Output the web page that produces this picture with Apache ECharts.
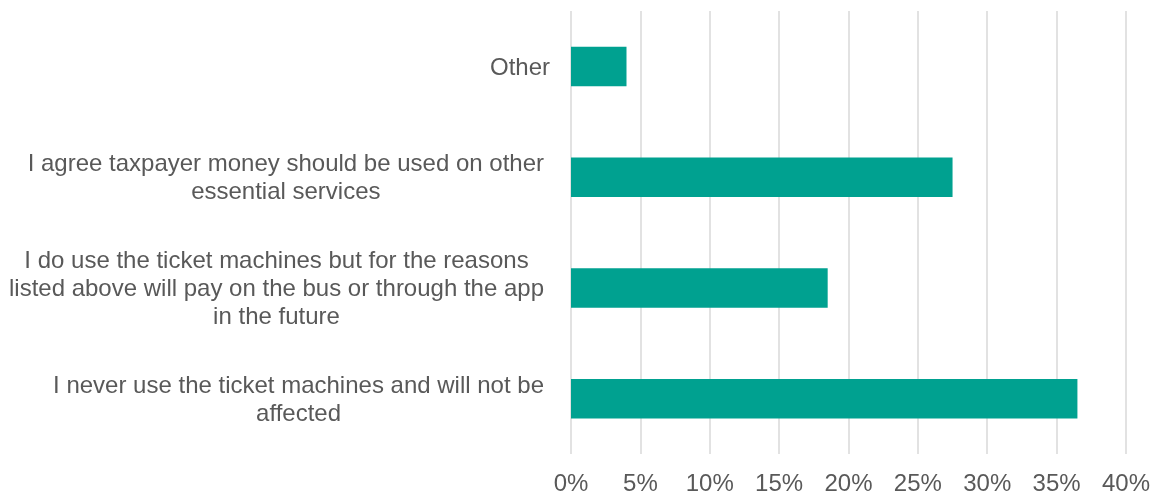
<!DOCTYPE html>
<html>
<head>
<meta charset="utf-8">
<title>Ticket machine responses</title>
<script src="https://cdn.jsdelivr.net/npm/echarts@6/dist/echarts.min.js"></script>
<style>
  html, body { margin: 0; padding: 0; background: #ffffff; }
  #chart { width: 1153px; height: 496px; }
</style>
</head>
<body>
<div id="chart"></div>
<script>
// Response categories, listed top to bottom
const categories = [
  'Other',
  'I agree taxpayer money should be used on other\nessential services',
  'I do use the ticket machines but for the reasons\nlisted above will pay on the bus or through the app\nin the future',
  'I never use the ticket machines and will not be\naffected'
];

// Share of respondents (%) for each category
const shares = [4.0, 27.5, 18.5, 36.5];

// Percentage axis ticks
const axisMin = 0;
const axisMax = 40;
const axisStep = 5;

const chart = echarts.init(document.getElementById('chart'), null, { renderer: 'canvas' });

const textColor = '#595959';
const fontFamily = 'Liberation Sans, Arial, sans-serif';
const labelFont = {
  color: textColor,
  fontFamily: fontFamily,
  fontSize: 24,
  lineHeight: 27.6
};

chart.setOption({
  animation: false,
  backgroundColor: '#ffffff',
  grid: {
    left: 571,
    right: 23.5,
    top: 11,
    bottom: 39,
    containLabel: false
  },
  xAxis: {
    type: 'value',
    min: axisMin,
    max: axisMax,
    interval: axisStep,
    axisLine: { show: false },
    axisTick: { show: false },
    axisLabel: {
      color: textColor,
      fontFamily: fontFamily,
      fontSize: 24,
      margin: 18,
      formatter: v => v + '%'
    },
    splitLine: {
      show: true,
      lineStyle: { color: '#D9D9D9', width: 1.5 }
    }
  },
  yAxis: {
    type: 'category',
    inverse: true,
    data: categories,
    axisLine: { show: false },
    axisTick: { show: false },
    axisLabel: Object.assign({
      margin: 21,
      align: 'right',
      padding: [3, 0, 0, 0],
      // wrapped labels: centre each line inside the right-aligned block,
      // leaving the space that follows each wrapped line
      formatter: v => {
        const lines = v.split('\n');
        const style = lines.length > 1 ? 'w' : 'c';
        return lines.map(line => '{' + style + '|' + line + '}').join('\n');
      },
      rich: {
        c: Object.assign({ align: 'center' }, labelFont),
        w: Object.assign({ align: 'center', padding: [0, 6, 0, 0] }, labelFont)
      }
    }, labelFont),
    splitLine: { show: false }
  },
  series: [{
    type: 'bar',
    data: shares,
    barWidth: 39.5,
    itemStyle: {
      color: '#00A190'
    }
  }]
});
</script>
</body>
</html>
